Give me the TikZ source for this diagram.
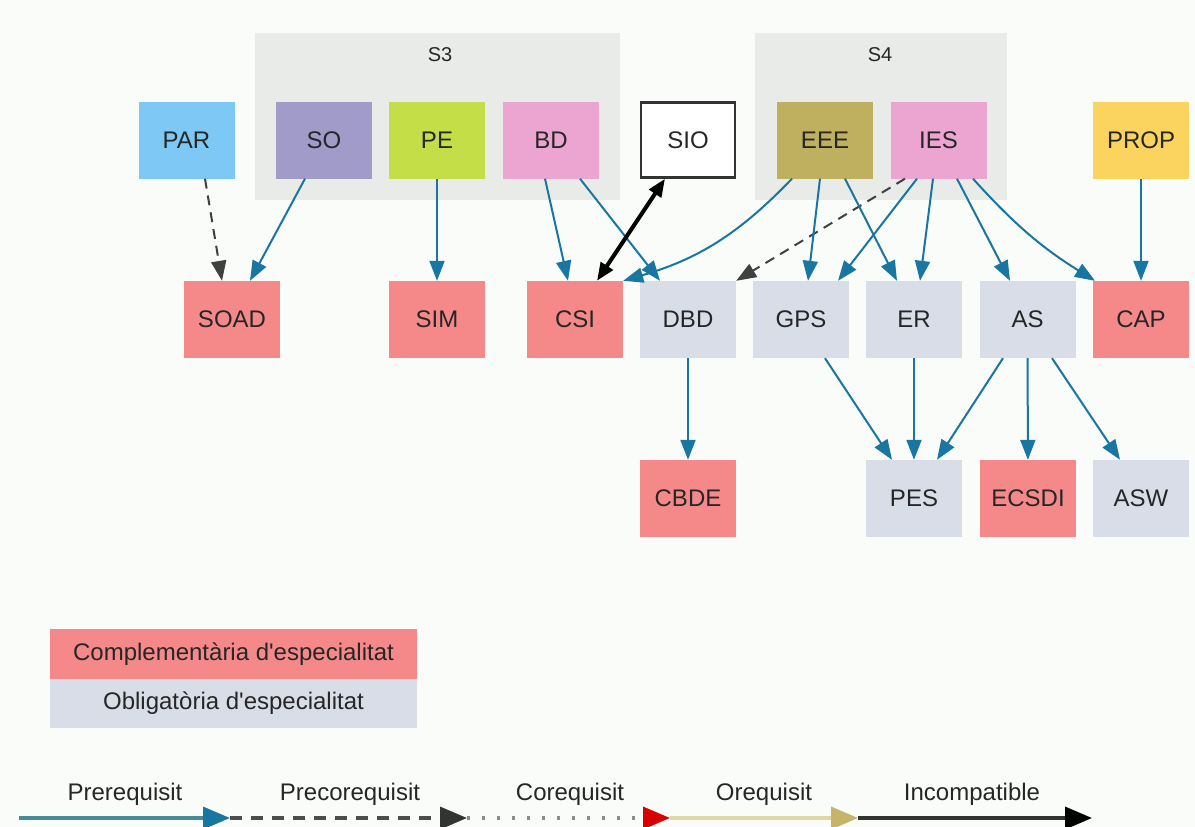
\documentclass[tikz,border=0pt]{standalone}
\usepackage{fontspec}
\setmainfont{Liberation Sans}
\usepackage{tikz}
\usetikzlibrary{arrows.meta}

\definecolor{bgcol}{RGB}{250,252,250}
\definecolor{clustcol}{RGB}{233,235,232}
\definecolor{parcol}{RGB}{125,200,245}
\definecolor{socol}{RGB}{160,155,200}
\definecolor{pecol}{RGB}{196,222,72}
\definecolor{pinkcol}{RGB}{236,165,208}
\definecolor{eeecol}{RGB}{190,176,95}
\definecolor{propcol}{RGB}{250,212,95}
\definecolor{compcol}{RGB}{245,137,137}
\definecolor{oblcol}{RGB}{216,221,231}
\definecolor{edgecol}{RGB}{25,118,160}
\definecolor{prelinecol}{RGB}{70,140,150}
\definecolor{orelinecol}{RGB}{222,216,165}
\definecolor{oreheadcol}{RGB}{200,180,105}

\tikzset{
  course/.style={rectangle,minimum width=96pt,minimum height=77pt,inner sep=0pt,
    text=black!85,font=\fontsize{24}{28}\selectfont},
  cluster/.style={rectangle,fill=clustcol,inner sep=0pt},
  clusterlabel/.style={text=black!85,font=\fontsize{20}{24}\selectfont},
  legendbox/.style={rectangle,minimum width=367pt,inner sep=0pt,
    text=black!85,font=\fontsize{24}{28}\selectfont},
  legendlabel/.style={text=black!85,font=\fontsize{24}{28}\selectfont},
  prereq/.style={draw=edgecol,line width=2pt,-{Triangle[length=20pt,width=15pt]}},
  precoreq/.style={draw=black!75,line width=2pt,dash pattern=on 10pt off 7pt,
    -{Triangle[length=20pt,width=15pt]}},
  incompat/.style={draw=black,line width=4pt,
    {Triangle[length=18pt,width=14pt]}-{Triangle[length=18pt,width=14pt]}}
}

\begin{document}
\begin{tikzpicture}[x=1pt,y=-1pt]
  \fill[bgcol] (0,0) rectangle (1195,827);
  \useasboundingbox (0,0) rectangle (1195,827);

  \node[cluster,minimum width=365pt,minimum height=167pt] (s3) at (437.5,116.5) {};
  \node[clusterlabel] (s3label) at (440,55) {S3};
  \node[cluster,minimum width=252pt,minimum height=167pt] (s4) at (881,116.5) {};
  \node[clusterlabel] (s4label) at (880,55) {S4};

  \node[course,fill=parcol] (par) at (186.5,140) {PAR};
  \node[course,fill=socol] (so) at (324,140) {SO};
  \node[course,fill=pecol] (pe) at (437,140) {PE};
  \node[course,fill=pinkcol] (bd) at (551,140) {BD};
  \node[course,fill=white,draw=black!80,line width=2.5pt,minimum width=94pt,minimum height=75pt] (sio) at (688,140) {SIO};
  \node[course,fill=eeecol] (eee) at (825,140) {EEE};
  \node[course,fill=pinkcol] (ies) at (938.5,140) {IES};
  \node[course,fill=propcol] (prop) at (1141,140) {PROP};

  \node[course,fill=compcol] (soad) at (232,319.5) {SOAD};
  \node[course,fill=compcol] (sim) at (437,319.5) {SIM};
  \node[course,fill=compcol] (csi) at (575,319.5) {CSI};
  \node[course,fill=oblcol] (dbd) at (688,319.5) {DBD};
  \node[course,fill=oblcol] (gps) at (801,319.5) {GPS};
  \node[course,fill=oblcol] (er) at (914,319.5) {ER};
  \node[course,fill=oblcol] (as) at (1027.5,319.5) {AS};
  \node[course,fill=compcol] (cap) at (1141,319.5) {CAP};

  \node[course,fill=compcol] (cbde) at (688,498.5) {CBDE};
  \node[course,fill=oblcol] (pes) at (914,498.5) {PES};
  \node[course,fill=compcol] (ecsdi) at (1028,498.5) {ECSDI};
  \node[course,fill=oblcol] (asw) at (1141,498.5) {ASW};

  \draw[precoreq] ([xshift=18.5pt]par.south) to ([xshift=-10pt]soad.north);
  \draw[prereq] ([xshift=-19pt]so.south) to ([xshift=18pt]soad.north);
  \draw[prereq] (pe) to (sim);
  \draw[prereq] ([xshift=-6pt]bd.south) to ([xshift=-7pt]csi.north);
  \draw[prereq] ([xshift=29pt]bd.south) to ([xshift=-28pt]dbd.north);
  \draw[incompat] ([xshift=-23pt]sio.south) to ([xshift=22pt]csi.north);
  \draw[prereq,bend left=15] ([xshift=-33pt]eee.south) to (csi.north east);
  \draw[precoreq] ([xshift=-33.5pt]ies.south) to (dbd.north east);
  \draw[prereq] ([xshift=-5pt]eee.south) to ([xshift=7pt]gps.north);
  \draw[prereq] ([xshift=20pt]eee.south) to ([xshift=-17pt]er.north);
  \draw[prereq] ([xshift=-21.5pt]ies.south) to ([xshift=37pt]gps.north);
  \draw[prereq] ([xshift=-5.5pt]ies.south) to ([xshift=6pt]er.north);
  \draw[prereq] ([xshift=18.5pt]ies.south) to ([xshift=-17.5pt]as.north);
  \draw[prereq,bend right=8] ([xshift=34.5pt]ies.south) to ([xshift=-46pt]cap.north);
  \draw[prereq] (prop) to (cap);
  \draw[prereq] (dbd) to (cbde);
  \draw[prereq] ([xshift=24pt]gps.south) to ([xshift=-22pt]pes.north);
  \draw[prereq] (er) to (pes);
  \draw[prereq] ([xshift=-24.5pt]as.south) to ([xshift=23pt]pes.north);
  \draw[prereq] (as) to (ecsdi);
  \draw[prereq] ([xshift=24.5pt]as.south) to ([xshift=-21pt]asw.north);

  \node[legendbox,fill=compcol,minimum height=50pt] (comp) at (233.5,654) {Complementària d\textquotesingle especialitat};
  \node[legendbox,fill=oblcol,minimum height=49pt] (obl) at (233.5,703.5) {Obligatòria d\textquotesingle especialitat};

  \coordinate (l0) at (19,818);
  \coordinate (l1) at (230,818);
  \coordinate (l2) at (467,818);
  \coordinate (l3) at (670,818);
  \coordinate (l4) at (858,818);
  \coordinate (l5) at (1092,818);
  \draw[prelinecol,line width=3.5pt,-{Triangle[length=27pt,width=22pt,color=edgecol]}] (l0) -- (l1);
  \draw[black!70,line width=3.5pt,dash pattern=on 12pt off 9pt,-{Triangle[length=27pt,width=22pt,color=black!80]}] (l1) -- (l2);
  \draw[black!45,line width=3.5pt,dash pattern=on 3pt off 12pt,-{Triangle[length=27pt,width=22pt,color=red!85!black]}] (l2) -- (l3);
  \draw[orelinecol,line width=3.5pt,-{Triangle[length=27pt,width=22pt,color=oreheadcol]}] (l3) -- (l4);
  \draw[black!80,line width=3.5pt,-{Triangle[length=27pt,width=22pt,color=black]}] (l4) -- (l5);
  \node[legendlabel] (prelabel) at (125,794) {Prerequisit};
  \node[legendlabel] (precolabel) at (350,794) {Precorequisit};
  \node[legendlabel] (colabel) at (570,794) {Corequisit};
  \node[legendlabel] (orelabel) at (764,794) {Orequisit};
  \node[legendlabel] (inclabel) at (972,794) {Incompatible};
\end{tikzpicture}
\end{document}
